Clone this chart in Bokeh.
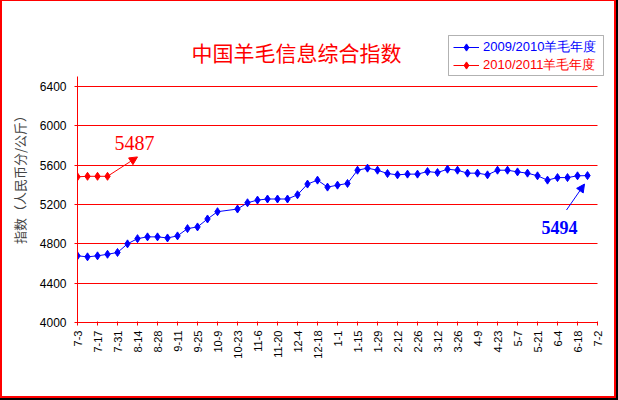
import math
from bokeh.plotting import figure
from bokeh.models import (Range1d, FixedTicker, Legend, LegendItem, Label,
                          Arrow, NormalHead, BoxAnnotation)
from bokeh.embed import file_html
from bokeh.resources import INLINE

# ---- data ----
title_text = "中国羊毛信息综合指数"
y_label = "指数（人民币分/公斤）"
series_names = ["2009/2010羊毛年度", "2010/2011羊毛年度"]

# tick labels, one every two weeks (weekly index 0..52)
week_labels = ["7-3", "7-17", "7-31", "8-14", "8-28", "9-11", "9-25", "10-9",
               "10-23", "11-6", "11-20", "12-4", "12-18", "1-1", "1-15", "1-29",
               "2-12", "2-26", "3-12", "3-26", "4-9", "4-23", "5-7", "5-21",
               "6-4", "6-18", "7-2"]
y_ticks = [4000, 4400, 4800, 5200, 5600, 6000, 6400]
y_axis_max = 6500

# 2009/2010 season, weekly (None = no value)
blue_values = [4678, 4668, 4678, 4694, 4712, 4800, 4853, 4871, 4871, 4860,
               4881, 4955, 4972, 5053, 5127, None, 5154, 5218, 5245, 5256,
               5256, 5256, 5299, 5408, 5448, 5377, 5397, 5414, 5549, 5570,
               5549, 5515, 5502, 5509, 5509, 5535, 5525, 5559, 5549, 5519,
               5519, 5502, 5549, 5549, 5532, 5519, 5492, 5448, 5474, 5474,
               5492, 5494, None]
# 2010/2011 season, first weeks
red_values = [5482, 5487, 5487, 5487]

BLUE = "#0000ff"
RED = "#ff0000"

last_week = len(blue_values) - 1
bx = [i for i, v in enumerate(blue_values) if v is not None]
by = [v for v in blue_values if v is not None]
rx = list(range(len(red_values)))
ry = red_values

p = figure(width=618, height=400, output_backend="svg", toolbar_location=None,
           x_range=Range1d(0, 53.5), y_range=Range1d(4000, 6970),
           min_border_left=77, min_border_right=6, min_border_top=30,
           min_border_bottom=78, outline_line_color=None,
           background_fill_color="white", border_fill_alpha=0)
p.styles = {"box-shadow": "inset -2px -2px 0 0 #000000, inset -4px -4px 0 0 #ff0000, "
                          "inset 2px 1px 0 0 #ff0000"}

# axes
p.xaxis.ticker = FixedTicker(ticks=list(range(0, last_week + 1, 2)))
p.xaxis.major_label_overrides = {i * 2: lab for i, lab in enumerate(week_labels)}
p.xaxis.major_label_orientation = math.pi / 2
p.xaxis.major_label_text_font = "Liberation Sans"
p.xaxis.major_label_text_font_size = "11px"
p.xaxis.major_label_standoff = 5
p.xaxis.major_tick_in = 1
p.xaxis.major_tick_out = 3
p.xaxis.bounds = (0, last_week)

p.yaxis.ticker = FixedTicker(ticks=y_ticks)
p.yaxis.major_label_text_font = "Liberation Sans"
p.yaxis.major_label_text_font_size = "12px"
p.yaxis.major_label_standoff = 8
p.yaxis.major_tick_in = 0
p.yaxis.major_tick_out = 3
p.yaxis.axis_label = y_label
p.yaxis.axis_label_text_font = "Noto Sans CJK SC"
p.yaxis.axis_label_text_font_size = "13px"
p.yaxis.axis_label_text_font_style = "normal"
p.yaxis.axis_label_standoff = 8
p.yaxis.bounds = (4000, y_axis_max)

for ax in (p.xaxis[0], p.yaxis[0]):
    ax.axis_line_color = RED
    ax.axis_line_width = 1
    ax.major_tick_line_color = RED
    ax.minor_tick_line_color = None
    ax.major_label_text_color = "black"

p.xgrid.visible = False
g = p.ygrid[0]
if "cross_bounds" in g.properties():
    g.ticker = FixedTicker(ticks=y_ticks)
    g.grid_line_color = RED
    g.grid_line_width = 1
    g.cross_bounds = (0, last_week)
else:
    g.visible = False
    p.segment(x0=[0] * len(y_ticks), x1=[last_week] * len(y_ticks),
              y0=y_ticks, y1=y_ticks, line_color=RED, line_width=1)

# series
bl = p.line(bx, by, line_color=BLUE, line_width=1)
bp = p.scatter(bx, by, marker="diamond", size=8,
               fill_color=BLUE, line_color=BLUE)
rl = p.line(rx, ry, line_color=RED, line_width=1)
rp = p.scatter(rx, ry, marker="diamond", size=8,
               fill_color=RED, line_color=RED)

# annotations
p.add_layout(Arrow(end=NormalHead(size=8, fill_color=RED, line_color=RED),
                   x_start=rx[-1], y_start=ry[-1], x_end=6.0, y_end=5684,
                   line_color=RED, line_width=1))
p.add_layout(Label(x=3.7, y=5825, text=str(red_values[-1]), text_color=RED,
                   text_font="Liberation Serif", text_font_size="20px",
                   text_baseline="alphabetic"))
p.add_layout(Arrow(end=NormalHead(size=8, fill_color=BLUE, line_color=BLUE),
                   x_start=48.9, y_start=5144, x_end=50.7, y_end=5408,
                   line_color=BLUE, line_width=1))
p.add_layout(Label(x=46.4, y=4971, text=str(blue_values[51]), text_color=BLUE,
                   text_font="Liberation Serif", text_font_size="18px",
                   text_font_style="bold", text_baseline="alphabetic"))

# title (screen units: pixels from the frame's left / bottom)
p.add_layout(Label(x=114, y=271, x_units="screen", y_units="screen",
                   text=title_text, text_color=RED, text_font="Noto Sans CJK SC",
                   text_font_size="21px", text_baseline="middle"))

# legend box + two legends (each with its own text colour)
p.add_layout(BoxAnnotation(left=371, right=526, bottom=247, top=287,
                           left_units="screen", right_units="screen",
                           bottom_units="screen", top_units="screen",
                           fill_color="white", fill_alpha=1,
                           line_color="black", line_width=1))
for name, rends, color, loc in [(series_names[0], [bl, bp], BLUE, (376, 266)),
                                (series_names[1], [rl, rp], RED, (376, 248))]:
    lg = Legend(items=[LegendItem(label=name, renderers=rends)], location=loc,
                padding=0, spacing=0, margin=0, glyph_height=18, glyph_width=26,
                label_height=18, label_standoff=4, border_line_color=None,
                background_fill_alpha=0, label_text_color=color,
                label_text_font="Liberation Sans", label_text_font_size="13px")
    p.add_layout(lg)

open("out.html", "w").write(file_html(p, INLINE))
